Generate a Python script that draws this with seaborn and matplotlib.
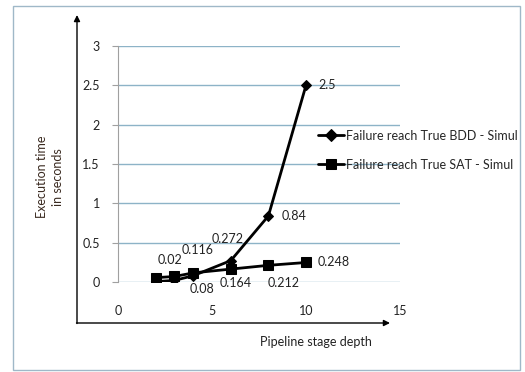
import numpy as np
import pandas as pd
import matplotlib
matplotlib.use('Agg')
import matplotlib.pyplot as plt
import seaborn as sns
from matplotlib.patches import Rectangle

# pipeline stage depth
depth = [2, 3, 4, 6, 8, 10]
# execution time [s]
bdd = [0.005, 0.02, 0.08, 0.272, 0.84, 2.5]
sat = [0.055, 0.07, 0.116, 0.164, 0.212, 0.248]
bdd_labels = [None, '0.02', '0.08', '0.272', '0.84', '2.5']
sat_labels = [None, None, '0.116', '0.164', '0.212', '0.248']
series_names = ['Failure reach True BDD - Simul', 'Failure reach True SAT - Simul']

df = pd.DataFrame({'depth': depth * 2,
                   'time': bdd + sat,
                   'series': [series_names[0]] * len(depth) + [series_names[1]] * len(depth)})

sns.set_style('white')
plt.rcParams['font.family'] = ['Lato', 'DejaVu Sans']
plt.rcParams['font.size'] = 9

fig = plt.figure(figsize=(5.25, 3.72), dpi=100)
ax = fig.add_axes([118 / 525, 1 - 282 / 372, 282 / 525, 236 / 372])

sns.lineplot(data=df, x='depth', y='time', hue='series', style='series',
             markers={series_names[0]: 'D', series_names[1]: 's'}, dashes=False,
             palette=['black', 'black'], linewidth=2, markersize=6.5, ax=ax,
             markeredgecolor='black')
ax.get_lines()[0].set_markersize(5)

ax.set_xlim(0, 15)
ax.set_ylim(0, 3)
ax.set_xticks([0, 5, 10, 15])
ax.set_yticks(np.arange(0, 3.01, 0.5))
ax.set_yticklabels(['0', '0.5', '1', '1.5', '2', '2.5', '3'])
ax.yaxis.grid(True, color='#8db3c7', linewidth=1)
ax.xaxis.grid(False)
ax.set_axisbelow(True)
for s in ['top', 'right', 'bottom']:
    ax.spines[s].set_visible(False)
ax.spines['left'].set_color('#a0a0a0')
ax.tick_params(axis='y', left=True, length=4, color='#a0a0a0', pad=9, labelcolor='#222222')
ax.tick_params(axis='x', bottom=False, pad=13, labelcolor='#222222')
ax.set_xlabel('')
ax.set_ylabel('')

# data label placement (pixel offsets, as dragged in the original)
bdd_off = [None, (-4, 20), (9, -13), (-3, 22), (13, 0), (12, 0)]
sat_off = [None, None, (4, 23), (5, -14), (15, -18), (12, 0)]


def put_labels(ys, labels, offs):
    for x, y, t, o in zip(depth, ys, labels, offs):
        if t is None:
            continue
        ha = 'left' if o[1] == 0 else 'center'
        ax.annotate(t, (x, y), xytext=o, textcoords='offset pixels',
                    va='center', ha=ha, color='#222222')


put_labels(bdd, bdd_labels, bdd_off)
put_labels(sat, sat_labels, sat_off)

ax.legend(loc='center left', bbox_to_anchor=(0.709, 0.559), frameon=False, title=None,
          borderpad=0, borderaxespad=0, handlelength=2.1, handletextpad=0.15,
          labelspacing=1.35, fontsize=9)

# outer frame, axis arrows and titles
fig.patches.append(Rectangle((13 / 525, 1 - 370 / 372), 507 / 525, 364 / 372,
                             transform=fig.transFigure, fill=False,
                             edgecolor='#9fb8c8', linewidth=1))
ax.annotate('', xy=(77 / 525, 1 - 15 / 372), xytext=(77 / 525, 1 - 323.5 / 372),
            xycoords='figure fraction', arrowprops=dict(arrowstyle='-|>', color='black', lw=1,
                                                        shrinkA=0, shrinkB=0))
ax.annotate('', xy=(390 / 525, 1 - 323 / 372), xytext=(76.5 / 525, 1 - 323 / 372),
            xycoords='figure fraction', arrowprops=dict(arrowstyle='-|>', color='black', lw=1,
                                                        shrinkA=0, shrinkB=0))
fig.text(50 / 525, 1 - 177 / 372, 'Execution time\nin seconds', rotation=90,
         ha='center', va='center', fontsize=9, color='#3a2a20', linespacing=1.5)
fig.text(316 / 525, 1 - 342 / 372, 'Pipeline stage depth', ha='center', va='center',
         fontsize=9, color='#222222')

fig.savefig('out.png', dpi=100)
